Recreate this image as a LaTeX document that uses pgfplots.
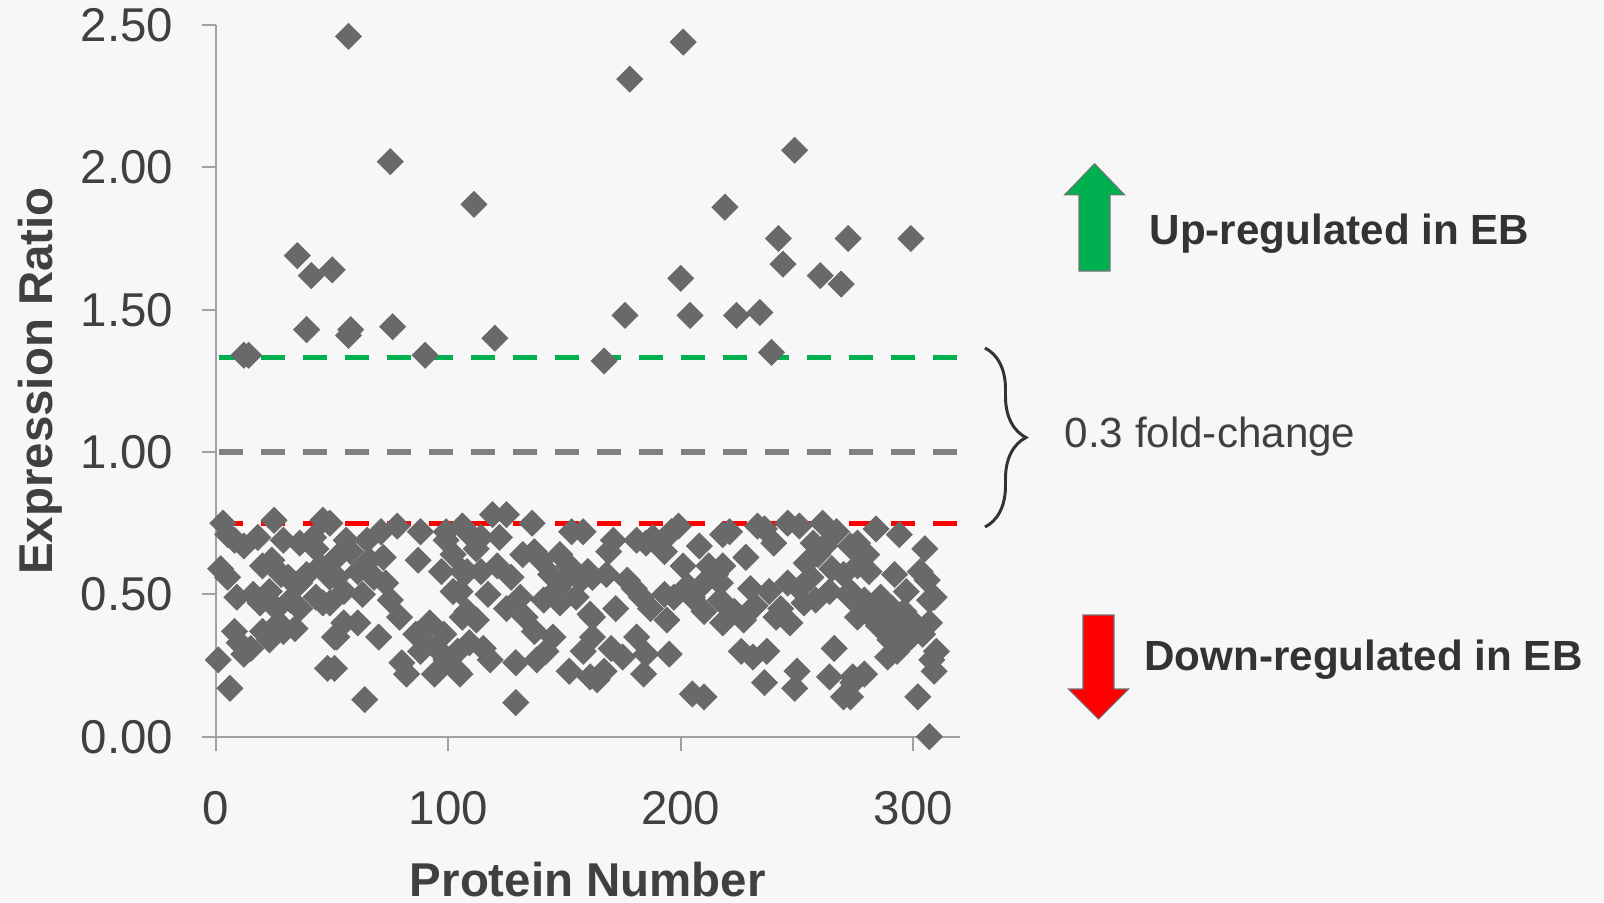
\documentclass[border=0pt]{standalone}
\usepackage{pgfplots}
\pgfplotsset{compat=1.18}
\usepackage{pgfplotstable}
\usepackage{fontspec}
\setmainfont{Liberation Sans}
\usetikzlibrary{decorations.pathreplacing}

\definecolor{bg}{HTML}{F7F7F7}
\definecolor{pt}{HTML}{696969}
\definecolor{upgreen}{HTML}{00B050}
\definecolor{downred}{HTML}{FF0000}
\definecolor{midgray}{HTML}{808080}
\definecolor{axisgray}{HTML}{A0A0A0}
\definecolor{txt}{HTML}{404040}
\definecolor{txtdark}{HTML}{333333}

% expression ratio of each protein
\pgfplotstableread{
x y
57 2.46
75 2.02
111 1.87
35 1.69
41 1.62
50 1.64
39 1.43
58 1.43
57 1.41
76 1.44
120 1.40
12 1.34
14 1.34
90 1.34
201 2.44
178 2.31
249 2.06
219 1.86
242 1.75
272 1.75
299 1.75
244 1.66
260 1.62
269 1.59
200 1.61
176 1.48
204 1.48
224 1.48
234 1.49
167 1.32
239 1.35
3 0.75
25 0.76
46 0.76
5 0.71
12 0.67
18 0.70
29 0.69
36 0.68
42 0.70
43 0.66
2 0.59
5 0.56
20 0.60
24 0.62
28 0.57
36 0.54
39 0.57
45 0.60
49 0.56
9 0.49
16 0.50
19 0.47
23 0.51
26 0.45
32 0.48
36 0.45
43 0.49
46 0.47
8 0.37
10 0.33
12 0.29
20 0.37
23 0.34
29 0.37
34 0.38
51 0.35
1 0.27
6 0.17
48 0.24
15 0.31
8 0.69
31 0.56
27 0.40
49 0.75
71 0.72
88 0.72
99 0.72
106 0.74
56 0.69
65 0.69
72 0.63
87 0.62
97 0.58
99 0.69
102 0.64
102 0.51
106 0.58
52 0.63
61 0.58
52 0.56
55 0.51
63 0.50
68 0.56
73 0.54
75 0.48
79 0.42
49 0.47
55 0.40
52 0.35
61 0.40
70 0.35
86 0.36
92 0.40
98 0.36
80 0.26
82 0.22
88 0.30
94 0.22
99 0.27
104 0.23
104 0.30
106 0.42
51 0.24
64 0.13
78 0.74
58 0.65
90 0.33
95 0.31
66 0.62
119 0.78
125 0.78
136 0.75
153 0.72
158 0.72
108 0.72
114 0.70
122 0.70
108 0.58
114 0.58
121 0.60
127 0.56
132 0.64
137 0.65
148 0.64
144 0.57
152 0.60
157 0.55
160 0.58
117 0.50
125 0.45
131 0.49
141 0.48
148 0.47
155 0.49
161 0.43
105 0.51
108 0.44
112 0.41
137 0.37
145 0.35
142 0.30
109 0.33
115 0.31
118 0.27
129 0.26
138 0.27
105 0.22
152 0.23
158 0.30
161 0.21
129 0.12
147 0.52
150 0.55
133 0.42
140 0.62
112 0.66
171 0.69
181 0.69
188 0.70
199 0.74
208 0.67
218 0.71
169 0.65
193 0.65
201 0.60
168 0.57
162 0.56
177 0.55
183 0.49
187 0.45
193 0.50
197 0.49
205 0.49
210 0.54
215 0.57
217 0.48
172 0.45
194 0.41
210 0.44
162 0.42
162 0.35
170 0.31
175 0.28
181 0.35
185 0.29
195 0.29
184 0.22
164 0.20
167 0.23
205 0.15
210 0.14
185 0.68
196 0.72
212 0.60
180 0.52
203 0.53
221 0.72
233 0.74
246 0.75
251 0.74
261 0.75
267 0.72
240 0.68
257 0.68
262 0.67
228 0.63
254 0.61
273 0.67
218 0.60
217 0.54
230 0.52
238 0.51
246 0.54
251 0.52
253 0.47
258 0.48
264 0.51
270 0.57
273 0.49
223 0.44
218 0.40
227 0.41
241 0.42
247 0.40
226 0.30
231 0.28
237 0.30
266 0.31
236 0.19
250 0.23
249 0.17
264 0.21
270 0.14
274 0.21
236 0.73
259 0.64
256 0.56
265 0.59
243 0.45
232 0.46
284 0.73
294 0.71
305 0.66
276 0.68
280 0.64
276 0.60
281 0.58
292 0.57
303 0.58
306 0.55
297 0.51
307 0.48
273 0.51
279 0.48
286 0.49
276 0.42
281 0.43
289 0.42
294 0.38
299 0.41
307 0.40
304 0.36
290 0.34
296 0.33
289 0.28
293 0.30
308 0.27
309 0.23
279 0.22
274 0.19
273 0.14
302 0.14
307 0.00
284 0.45
291 0.45
296 0.44
299 0.35
310 0.30
285 0.39
309 0.49
}\ratios

\begin{document}
\begin{tikzpicture}
\fill[bg] (0,0) rectangle (160.4mm,90.2mm);
\begin{axis}[
  at={(21.6mm,16.53mm)}, anchor=south west,
  scale only axis, width=74.37mm, height=71.17mm,
  xmin=0, xmax=320, ymin=0, ymax=2.5,
  axis lines=left,
  axis line style={axisgray, line width=0.6pt, -},
  xtick={0,100,200,300},
  ytick={0,0.5,1,1.5,2,2.5},
  tick align=outside,
  major tick length=1.4mm,
  tick style={axisgray, line width=0.6pt},
  /pgf/number format/assume math mode=true,
  ticklabel style={font=\fontsize{13.5}{16}\selectfont, text=txt},
  yticklabel style={anchor=east, inner sep=0pt, xshift=-2.8mm,
    /pgf/number format/.cd, fixed, fixed zerofill, precision=2},
  xticklabel style={anchor=north, inner sep=0pt, yshift=-4.0mm},
  every axis x label/.style={at={(axis description cs:0.5,-0.2252)}, anchor=base,
    font=\bfseries\fontsize{13.5}{16}\selectfont, text=txt},
  every axis y label/.style={at={(axis description cs:-0.2205,0.5)}, anchor=base,
    rotate=90, font=\bfseries\fontsize{13.5}{16}\selectfont, text=txt},
  xlabel={Protein Number},
  ylabel={Expression Ratio},
  clip=false,
]
% protein markers
\addplot[only marks, color=pt, mark=square*, mark size=2.62pt,
  mark options={rotate=45, draw=pt, fill=pt, line width=0.2pt}]
  table[x=x, y=y] {\ratios};
% thresholds
\addplot[upgreen, line width=1.5pt, dash pattern=on 2.4mm off 1.8mm, dash phase=-0.3mm]
  coordinates {(0,1.333) (320,1.333)};
\addplot[midgray, line width=1.5pt, dash pattern=on 2.4mm off 1.8mm, dash phase=-0.3mm]
  coordinates {(0,1.0) (320,1.0)};
\addplot[downred, line width=1.5pt, dash pattern=on 2.4mm off 1.8mm, dash phase=-0.3mm]
  coordinates {(0,0.75) (320,0.75)};
\end{axis}

\begin{scope}[x=1mm, y=1mm]
% fold-change brace
\draw[txtdark, line width=0.85pt, decorate, decoration={brace, amplitude=4.1mm, aspect=0.5}]
  (98.5,55.4) -- (98.5,37.5);
\node[anchor=base west, inner sep=0pt, font=\fontsize{12}{14}\selectfont, text=txt]
  at (106.4,45.5) {0.3 fold-change};
% up arrow
\filldraw[fill=upgreen, draw=black!55, line width=0.3pt]
  (109.46,73.83) -- (112.46,70.72) -- (111.0,70.72) -- (111.0,63.1)
  -- (107.9,63.1) -- (107.9,70.72) -- (106.46,70.72) -- cycle;
\node[anchor=base west, inner sep=0pt, font=\bfseries\fontsize{12}{14}\selectfont, text=txtdark]
  at (114.9,65.8) {Up-regulated in EB};
% down arrow
\filldraw[fill=downred, draw=black!55, line width=0.3pt]
  (109.85,18.3) -- (112.85,21.3) -- (111.4,21.3) -- (111.4,28.7)
  -- (108.3,28.7) -- (108.3,21.3) -- (106.85,21.3) -- cycle;
\node[anchor=base west, inner sep=0pt, font=\bfseries\fontsize{12}{14}\selectfont, text=txtdark]
  at (114.37,23.2) {Down-regulated in EB};
\end{scope}

\pgfresetboundingbox
\path[use as bounding box] (0,0) rectangle (160.4mm,90.2mm);
\end{tikzpicture}
\end{document}
